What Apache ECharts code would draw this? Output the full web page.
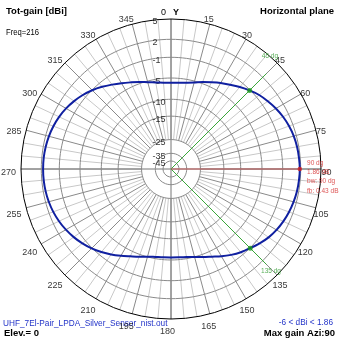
<!DOCTYPE html>
<html>
<head>
<meta charset="utf-8">
<script src="https://cdn.jsdelivr.net/npm/echarts@6/dist/echarts.min.js"></script>
<style>
  html, body { margin: 0; padding: 0; background: #fff; }
  #chart { width: 339px; height: 339px; }
</style>
</head>
<body>
<div id="chart"></div>
<script>
// Horizontal-plane total gain pattern, 216 MHz, elevation 0
const azimuthDeg = [
  0, 5, 10, 15, 20, 25, 30, 35, 40, 45, 50, 55, 60, 65, 70, 75, 80, 85,
  90, 95, 100, 105, 110, 115, 120, 125, 130, 135, 140, 145, 150, 155, 160, 165, 170, 175,
  180, 185, 190, 195, 200, 205, 210, 215, 220, 225, 230, 235, 240, 245, 250, 255, 260, 265,
  270, 275, 280, 285, 290, 295, 300, 305, 310, 315, 320, 325, 330, 335, 340, 345, 350, 355
];
const totGainDbi = [
  -6.00, -5.94, -5.71, -5.31, -4.67, -4.03, -3.31, -2.62, -1.85, -1.10, -0.40, 0.12, 0.62, 1.03, 1.35, 1.59, 1.73, 1.81,
  1.86, 1.81, 1.72, 1.56, 1.35, 1.08, 0.74, 0.29, -0.30, -0.95, -1.55, -2.25, -3.01, -3.82, -4.45, -5.00, -5.33, -5.49,
  -5.55, -5.50, -5.35, -5.05, -4.50, -3.90, -3.15, -2.35, -1.60, -0.90, -0.30, 0.22, 0.66, 1.02, 1.30, 1.50, 1.63, 1.70,
  1.72, 1.70, 1.62, 1.48, 1.28, 1.00, 0.62, 0.15, -0.40, -1.05, -1.80, -2.60, -3.35, -4.05, -4.65, -5.25, -5.65, -5.92
];
const ringDbi = [5, 2, -1, -5, -10, -15, -25, -35, -45];
const angleTickDeg = [0, 15, 30, 45, 60, 75, 90, 105, 120, 135, 150, 165, 180, 195, 210, 225, 240, 255, 270, 285, 300, 315, 330, 345];
const maxGainDbi = 1.86;
const maxGainAzi = 90;
const beamEdgeAzi = [45, 135];
const beamWidthDeg = 90;
const frontBackDb = 0.43;
const minDbi = -6;

// Radial scale: outer ring = 5 dBi, compressed logarithmically toward the centre
const TOP_DBI = 5;
function toRadius(db) {
  const d = TOP_DBI - db;
  return Math.exp(-(0.04785 * d + 0.000215 * d * d));
}
function gainAt(az) { return totGainDbi[azimuthDeg.indexOf(az)]; }

const CX = 171, CY = 169, R = 150;
const FONT = 'Arial, "Liberation Sans", sans-serif';
const GRID_DARK = '#8a8a8a', GRID_LIGHT = '#c8c8c8';
const EDGE_LINE_LEN = 0.9;
const EDGE_COLOR = '#3aa63a', MAX_COLOR = '#c45a5a';

function hiddenRadius(idx) {
  return { polarIndex: idx, type: 'value', min: 0, max: 1, axisLine: { show: false }, axisTick: { show: false }, axisLabel: { show: false }, splitLine: { show: false } };
}
function polarSeries(o) { return Object.assign({ coordinateSystem: 'polar', polarIndex: 0, silent: true, clip: false }, o); }

const ringSeries = ringDbi.slice(1).map(db => {
  const pts = [];
  for (let a = 0; a <= 360; a += 2) pts.push([toRadius(db), a]);
  return polarSeries({ type: 'line', data: pts, symbol: 'none', z: 1, lineStyle: { color: GRID_DARK, width: 1 } });
});

const patternData = azimuthDeg.map((a, i) => [toRadius(totGainDbi[i]), a]);
patternData.push([toRadius(totGainDbi[0]), 360]);

const edgeLabelOffsets = [[3.5, -17.5], [4.5, 7]];

const option = {
  animation: false,
  polar: [
    { center: [CX, CY], radius: [0, R] },
    { center: [CX, CY], radius: [toRadius(-25) * R, R] },
    { center: [CX, CY], radius: [0, 159] }
  ],
  angleAxis: [
    { polarIndex: 0, type: 'value', min: 0, max: 360, interval: 90, startAngle: 90, clockwise: true,
      axisLine: { lineStyle: { color: '#000', width: 1 } }, axisTick: { show: false }, axisLabel: { show: false },
      splitLine: { lineStyle: { color: '#777', width: 1 } } },
    { polarIndex: 1, type: 'value', min: 0, max: 360, interval: 5, startAngle: 90, clockwise: true,
      axisLine: { show: false }, axisTick: { show: false }, axisLabel: { show: false },
      splitLine: { lineStyle: { color: [GRID_DARK, GRID_LIGHT, GRID_LIGHT], width: 1 } } },
    { polarIndex: 2, type: 'value', min: 0, max: 360, startAngle: 90, clockwise: true,
      axisLine: { show: false }, axisTick: { show: false }, axisLabel: { show: false }, splitLine: { show: false } }
  ],
  radiusAxis: [hiddenRadius(0), hiddenRadius(1), hiddenRadius(2)],
  series: [
    ...ringSeries,
    // azimuth labels around the outer ring
    polarSeries({
      type: 'scatter', polarIndex: 2, symbolSize: 0,
      data: angleTickDeg.map(a => [1, a]),
      label: { show: true, position: 'inside', offset: [-3.5, 4], color: '#000', fontSize: 9, fontFamily: FONT,
        formatter: p => (p.value[1] === 0 ? '' : String(p.value[1])) }
    }),
    // gain ring labels along the 0° axis
    polarSeries({
      type: 'scatter', symbolSize: 0, z: 3,
      data: ringDbi.map(db => [toRadius(db), 0]),
      label: { show: true, position: 'inside', align: 'left', offset: [-18.5, 3], color: '#000', fontSize: 9, fontFamily: FONT,
        formatter: p => String(ringDbi[p.dataIndex]) }
    }),
    // beam-edge labels
    polarSeries({
      type: 'scatter', symbolSize: 0, zlevel: 1, z: 4,
      data: beamEdgeAzi.map((az, k) => ({ value: [EDGE_LINE_LEN, az], label: { offset: edgeLabelOffsets[k] } })),
      label: { show: true, position: 'inside', color: '#2e9a2e', fontSize: 6.5, fontFamily: FONT,
        formatter: p => p.value[1] + ' dg' }
    }),
    // pattern
    polarSeries({
      type: 'line', symbol: 'none', zlevel: 1, z: 5, smooth: 0.3,
      data: patternData,
      lineStyle: { color: '#1020a0', width: 2 }
    }),
    polarSeries({
      type: 'scatter', zlevel: 1, z: 6, symbolSize: 5,
      data: beamEdgeAzi.map(az => [toRadius(gainAt(az)), az]),
      itemStyle: { color: '#1a9a1a' }
    }),
    polarSeries({
      type: 'scatter', zlevel: 1, z: 6, symbolSize: 4.5,
      data: [[toRadius(maxGainDbi), maxGainAzi]],
      itemStyle: { color: '#d42020' },
      label: { show: true, position: 'right', distance: 5, offset: [0, 8], color: '#d42a2a', fontSize: 6.5, lineHeight: 9.4,
        fontFamily: FONT,
        formatter: () => [maxGainAzi + ' dg', maxGainDbi.toFixed(2) + ' dB', 'bw: ' + beamWidthDeg + ' dg', 'fb: ' + frontBackDb.toFixed(2) + ' dB'].join('\n') }
    })
  ],
  graphic: [
    { id: 't1', type: 'text', x: 6, y: 6, style: { text: 'Tot-gain [dBi]', font: 'bold 9.5px ' + FONT, fill: '#000', verticalAlign: 'top' } },
    { id: 't2', type: 'text', x: 6, y: 28, scaleX: 0.85, style: { text: 'Freq=216', font: '9px ' + FONT, fill: '#000', verticalAlign: 'top' } },
    { id: 't3', type: 'text', x: 334, y: 6, style: { text: 'Horizontal plane', font: 'bold 9.5px ' + FONT, fill: '#000', align: 'right', verticalAlign: 'top' } },
    { id: 't4', type: 'text', x: 161, y: 8, style: { text: '0', font: '9px ' + FONT, fill: '#000', verticalAlign: 'top' } },
    { id: 't5', type: 'text', x: 173, y: 8, style: { text: 'Y', font: 'bold 9px ' + FONT, fill: '#000', verticalAlign: 'top' } },
    { id: 't6', type: 'text', x: 3, y: 318, scaleX: 0.87, style: { text: 'UHF_7El-Pair_LPDA_Silver_Sensor_nist.out', font: '9.5px ' + FONT, fill: '#2233c8', verticalAlign: 'top' } },
    { id: 't7', type: 'text', x: 4, y: 328.5, style: { text: 'Elev.= 0', font: 'bold 9.5px ' + FONT, fill: '#000', verticalAlign: 'top' } },
    { id: 't8', type: 'text', x: 333, y: 317.5, scaleX: 0.87, style: { text: minDbi + ' < dBi < ' + maxGainDbi, font: '9.5px ' + FONT, fill: '#2233c8', align: 'right', verticalAlign: 'top' } },
    { id: 't9', type: 'text', x: 335, y: 328.5, style: { text: 'Max gain Azi:' + maxGainAzi, font: 'bold 9.5px ' + FONT, fill: '#000', align: 'right', verticalAlign: 'top' } }
  ]
};

const chart = echarts.init(document.getElementById('chart'), null, { renderer: 'canvas' });
chart.setOption(option);

// rays from the centre: beam edges (green) and direction of maximum gain (red),
// placed through the polar coordinate system's own conversion
const rays = beamEdgeAzi.map(az => ({ r: EDGE_LINE_LEN, az: az, color: EDGE_COLOR }))
  .concat([{ r: toRadius(maxGainDbi), az: maxGainAzi, color: MAX_COLOR }]);
chart.setOption({
  graphic: rays.map((ray, i) => {
    const p0 = chart.convertToPixel({ polarIndex: 0 }, [0, ray.az]);
    const p1 = chart.convertToPixel({ polarIndex: 0 }, [ray.r, ray.az]);
    return {
      id: 'ray' + i, type: 'line', zlevel: 1, z: 3, silent: true,
      shape: { x1: p0[0], y1: p0[1], x2: p1[0], y2: p1[1] },
      style: { stroke: ray.color, lineWidth: 1 }
    };
  })
});
</script>
</body>
</html>
